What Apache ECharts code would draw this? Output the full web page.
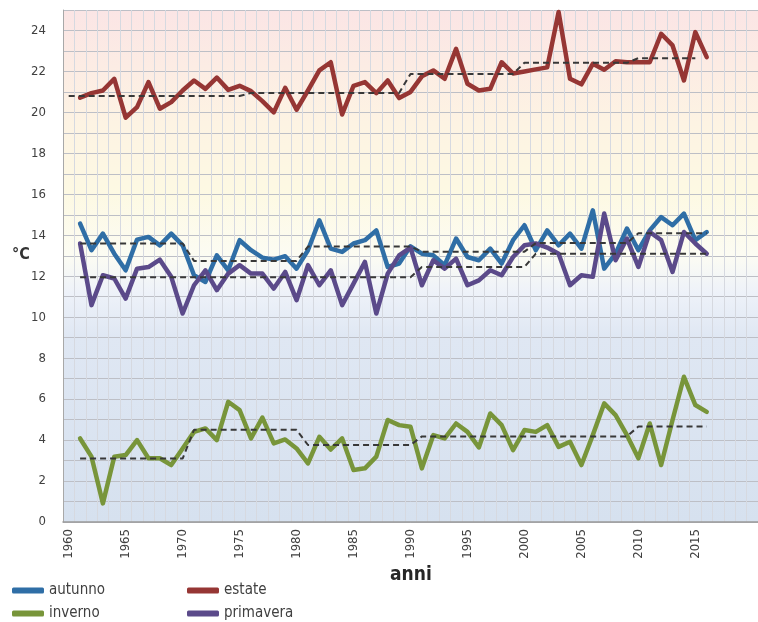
<!DOCTYPE html>
<html><head><meta charset="utf-8">
<script src="https://cdn.jsdelivr.net/npm/echarts@6/dist/echarts.min.js"></script>
<style>html,body{margin:0;padding:0;background:#fff}#c{width:758px;height:622px}</style>
</head><body><div id="c"></div>
<script>
// categories (years on the axis)
const years = ['1960','1961','1962','1963','1964','1965','1966','1967','1968','1969',
'1970','1971','1972','1973','1974','1975','1976','1977','1978','1979',
'1980','1981','1982','1983','1984','1985','1986','1987','1988','1989',
'1990','1991','1992','1993','1994','1995','1996','1997','1998','1999',
'2000','2001','2002','2003','2004','2005','2006','2007','2008','2009',
'2010','2011','2012','2013','2014','2015','2016','2017','2018','2019','2020'];
const xTickLabels = ['1960','1965','1970','1975','1980','1985','1990','1995','2000','2005','2010','2015'];

// seasonal mean temperature 1961-2016 (°C)
const autunno = [14.57,13.27,14.08,13.1,12.29,13.79,13.92,13.51,14.08,13.51,
12.05,11.72,13.02,12.29,13.76,13.27,12.91,12.81,12.98,12.37,
13.27,14.73,13.35,13.19,13.6,13.76,14.24,12.45,12.62,13.46,
13.1,13.02,12.54,13.84,12.94,12.78,13.35,12.62,13.76,14.49,
13.27,14.24,13.51,14.08,13.35,15.22,12.37,13.1,14.33,13.27,
14.24,14.89,14.49,15.06,13.76,14.16];
const estate = [20.72,20.94,21.07,21.64,19.74,20.26,21.48,20.18,20.5,21.07,
21.56,21.15,21.7,21.1,21.3,21.04,20.55,20.0,21.2,20.13,
21.07,22.05,22.45,19.9,21.3,21.48,20.94,21.56,20.7,21.0,
21.76,22.05,21.64,23.1,21.4,21.07,21.15,22.45,21.9,22.0,
22.1,22.2,24.9,21.64,21.37,22.37,22.08,22.5,22.45,22.45,
22.45,23.84,23.27,21.56,23.92,22.7];
const inverno = [4.08,3.19,0.91,3.19,3.27,4.0,3.11,3.11,2.78,3.59,
4.4,4.57,4.0,5.87,5.46,4.08,5.1,3.84,4.03,3.59,
2.86,4.16,3.54,4.08,2.54,2.62,3.19,4.98,4.73,4.65,
2.62,4.24,4.08,4.81,4.4,3.64,5.3,4.73,3.51,4.49,
4.4,4.73,3.67,3.92,2.78,4.24,5.79,5.22,4.24,3.11,
4.81,2.78,4.98,7.09,5.71,5.38];
const primavera = [13.6,10.59,12.05,11.89,10.91,12.37,12.45,12.81,11.97,10.18,
11.56,12.29,11.32,12.13,12.54,12.13,12.13,11.4,12.21,10.83,
12.54,11.56,12.29,10.59,11.64,12.7,10.18,12.13,13.02,13.4,
11.56,12.78,12.37,12.86,11.56,11.8,12.29,12.05,12.94,13.51,
13.6,13.4,13.1,11.56,12.05,11.97,15.06,12.78,13.84,12.45,
14.16,13.76,12.21,14.16,13.6,13.1];

// dashed step trends, one value per year (estate from 1960 to 2015, others 1961-2016)
const estateTrend = [20.8,20.8,20.8,20.8,20.8,20.8,20.8,20.8,20.8,20.8,
20.8,20.8,20.8,20.8,20.8,20.8,20.95,20.95,20.95,20.95,
20.95,20.95,20.95,20.95,20.95,20.95,20.95,20.95,20.95,20.95,
21.88,21.88,21.88,21.88,21.88,21.88,21.88,21.88,21.88,21.88,
22.42,22.42,22.42,22.42,22.42,22.42,22.42,22.42,22.42,22.42,
22.65,22.65,22.65,22.65,22.65,22.65];
const autunnoTrend = [13.6,13.6,13.6,13.6,13.6,13.6,13.6,13.6,13.6,13.6,
12.75,12.75,12.75,12.75,12.75,12.75,12.75,12.75,12.75,12.75,
13.45,13.45,13.45,13.45,13.45,13.45,13.45,13.45,13.45,13.45,
13.2,13.2,13.2,13.2,13.2,13.2,13.2,13.2,13.2,13.2,
13.62,13.62,13.62,13.62,13.62,13.62,13.62,13.62,13.62,
14.1,14.1,14.1,14.1,14.1,14.1,14.1];
const invernoTrend = [3.1,3.1,3.1,3.1,3.1,3.1,3.1,3.1,3.1,3.1,
4.5,4.5,4.5,4.5,4.5,4.5,4.5,4.5,4.5,4.5,
3.76,3.76,3.76,3.76,3.76,3.76,3.76,3.76,3.76,3.76,
4.18,4.18,4.18,4.18,4.18,4.18,4.18,4.18,4.18,4.18,
4.18,4.18,4.18,4.18,4.18,4.18,4.18,4.18,4.18,
4.66,4.66,4.66,4.66,4.66,4.66,4.66];
const primaveraTrend = [11.95,11.95,11.95,11.95,11.95,11.95,11.95,11.95,11.95,11.95,
11.95,11.95,11.95,11.95,11.95,11.95,11.95,11.95,11.95,11.95,
11.95,11.95,11.95,11.95,11.95,11.95,11.95,11.95,11.95,11.95,
12.45,12.45,12.45,12.45,12.45,12.45,12.45,12.45,12.45,12.45,
13.1,13.1,13.1,13.1,13.1,13.1,13.1,13.1,13.1,13.1,
13.1,13.1,13.1,13.1,13.1,13.1];

const yTicks = [0,2,4,6,8,10,12,14,16,18,20,22,24];

const font = '"Liberation Sans Narrow","DejaVu Sans Condensed","Liberation Sans",sans-serif';
const colors = {autunno:'#2F6EA6', estate:'#963634', inverno:'#78953A', primavera:'#5B4A8A'};

const chart = echarts.init(document.getElementById('c'), null, {renderer:'canvas'});

function solid(name, vals){
  return {name:name, type:'line', data:[null].concat(vals), showSymbol:false, symbol:'none',
    lineStyle:{width:4.5, color:colors[name], cap:'round', join:'round'}, itemStyle:{color:colors[name]},
    emphasis:{disabled:true}, z:3};
}
function dashed(vals, lead){
  return {type:'line', data:(lead?[]:[null]).concat(vals), showSymbol:false, symbol:'none',
    lineStyle:{width:2, color:'#383838', type:[6,4]}, emphasis:{disabled:true}, z:4, silent:true};
}
function legend(name, left, top){
  return {data:[name], left:left, top:top, icon:'roundRect', itemWidth:32, itemHeight:6, itemGap:4,
    textStyle:{fontSize:15, color:'#404040', fontFamily:font}, selectedMode:false, padding:0};
}

chart.setOption({
  animation:false,
  backgroundColor:'#ffffff',
  grid:{left:63, top:10, width:699, height:512, show:true, borderWidth:0,
    backgroundColor:new echarts.graphic.LinearGradient(0,0,0,1,[
      {offset:0, color:'#FBE5E5'},
      {offset:0.22, color:'#FDF3E3'},
      {offset:0.36, color:'#FDF9E3'},
      {offset:0.48, color:'#FCFCF3'},
      {offset:0.55, color:'#EEF2F9'},
      {offset:0.64, color:'#DFE7F3'},
      {offset:1, color:'#D6E1EF'}
    ])},
  xAxis:{type:'category', data:years, boundaryGap:true,
    axisLine:{show:true, lineStyle:{color:'#9a9a9a', width:1.5}},
    axisTick:{show:false},
    axisLabel:{rotate:90, interval:0, fontSize:13, color:'#404040', fontFamily:font, margin:7,
      formatter:function(v){return xTickLabels.indexOf(v)>=0 ? v : '';}},
    splitLine:{show:true, interval:0, lineStyle:{color:'#D6D9E0', width:1}}},
  yAxis:{type:'value', min:0, max:25, interval:1,
    axisLine:{show:true, lineStyle:{color:'#A8A8A8'}},
    axisTick:{show:false},
    axisLabel:{fontSize:13, color:'#404040', fontFamily:font, margin:17,
      formatter:function(v){return yTicks.indexOf(v)>=0 ? String(v) : '';}},
    splitLine:{show:true, lineStyle:{color:'#BDBFC6', width:1}}},
  legend:[legend('autunno',12,583), legend('estate',187,583), legend('inverno',12,606), legend('primavera',187,606)],
  graphic:[
    {type:'text', left:12, top:247, style:{text:'°C', fontSize:16, fontWeight:'bold', fill:'#333', fontFamily:font}},
    {type:'text', left:390, top:566, style:{text:'anni', fontSize:19, fontWeight:'bold', fill:'#262626', fontFamily:font}}
  ],
  series:[
    solid('autunno', autunno),
    solid('estate', estate),
    solid('inverno', inverno),
    solid('primavera', primavera),
    dashed(estateTrend, true),
    dashed(autunnoTrend),
    dashed(invernoTrend),
    dashed(primaveraTrend)
  ]
});
</script></body></html>
